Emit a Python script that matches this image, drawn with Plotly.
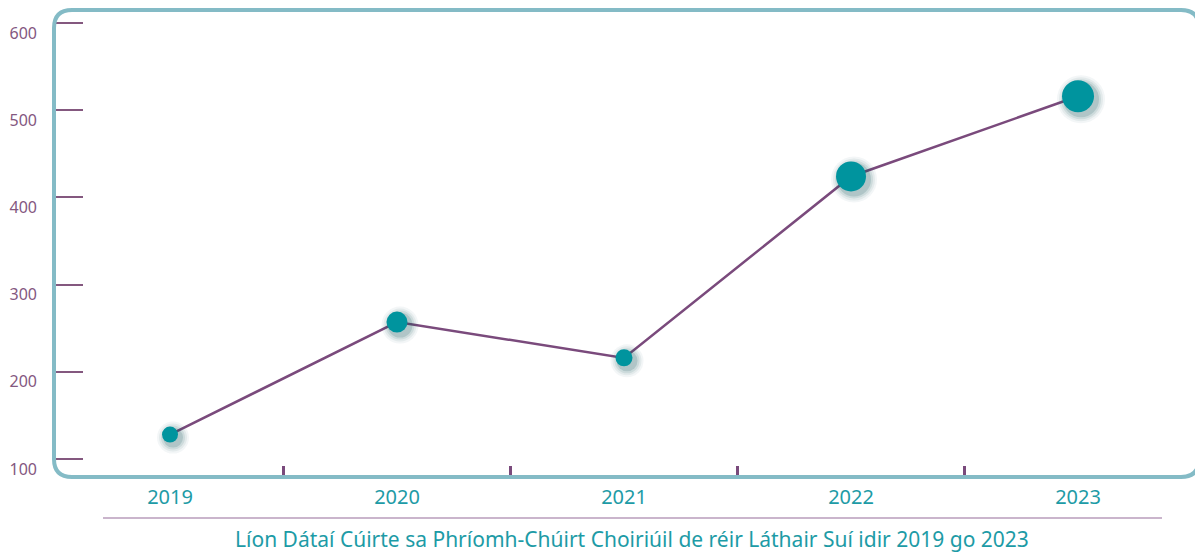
import plotly.graph_objects as go

years = ["2019", "2020", "2021", "2022", "2023"]
values = [128, 257, 216, 424, 516]
marker_sizes = [16, 21, 17, 30, 32]
y_ticks = [100, 200, 300, 400, 500, 600]
title_text = "Líon Dátaí Cúirte sa Phríomh-Chúirt Choiriúil de réir Láthair Suí idir 2019 go 2023"

OFF = 8  # default page body margin
W, H = 1203 - OFF, 553 - OFF
L, R, T, B = 54 - OFF, 1199 - OFF, 10 - OFF, 477 - OFF
pw, ph = R - L, B - T

xs = list(range(len(years)))
x_range = [-0.511, 4.533]
y_range = [79.4, 614.9]

teal = "#00949E"
purple = "#7A4A7C"
border = "#84BBC6"
label_purple = "#84587F"
label_teal = "#1D9BA6"
font_family = "Noto Sans"

fig = go.Figure()

# connecting line
fig.add_trace(go.Scatter(x=xs, y=values, mode="lines",
                         line=dict(color=purple, width=2.5),
                         hoverinfo="skip", showlegend=False))

# soft shadow glow
xu = (x_range[1] - x_range[0]) / pw
yu = (y_range[1] - y_range[0]) / ph
for extra, op in [(16, 0.05), (12, 0.07), (8, 0.10), (4, 0.16)]:
    fig.add_trace(go.Scatter(
        x=[x + 3 * xu for x in xs], y=[v - 3 * yu for v in values],
        mode="markers",
        marker=dict(size=[s + extra for s in marker_sizes], color="#17555c", opacity=op, line=dict(width=0)),
        hoverinfo="skip", showlegend=False))

fig.add_trace(go.Scatter(
    x=xs, y=values, mode="markers",
    marker=dict(size=marker_sizes, color=teal, opacity=1, line=dict(width=0)),
    showlegend=False))

# rounded border
r = 18
def px(xp):
    return (xp - OFF - L) / pw
def py(yp):
    return (B - (yp - OFF)) / ph
Lp, Rp, Tp, Bp = L + OFF, R + OFF, T + OFF, B + OFF
path = (f"M {px(Lp+r)},{py(Tp)} L {px(Rp-r)},{py(Tp)} Q {px(Rp)},{py(Tp)} {px(Rp)},{py(Tp+r)} "
        f"L {px(Rp)},{py(Bp-r)} Q {px(Rp)},{py(Bp)} {px(Rp-r)},{py(Bp)} "
        f"L {px(Lp+r)},{py(Bp)} Q {px(Lp)},{py(Bp)} {px(Lp)},{py(Bp-r)} "
        f"L {px(Lp)},{py(Tp+r)} Q {px(Lp)},{py(Tp)} {px(Lp+r)},{py(Tp)} Z")
fig.add_shape(type="path", path=path, xref="paper", yref="paper",
              line=dict(color=border, width=4), layer="above")

# separator line under x labels
fig.add_shape(type="line", xref="paper", yref="paper",
              x0=px(103), x1=px(1162), y0=py(518), y1=py(518),
              line=dict(color="#B99CBB", width=1.5))

fig.add_annotation(text=title_text, xref="paper", yref="paper",
                   x=px(632), y=py(539), xanchor="center", yanchor="middle",
                   showarrow=False,
                   font=dict(family=font_family, size=21, color=label_teal))

fig.update_layout(
    width=W, height=H,
    margin=dict(l=L, r=W - R, t=T, b=H - B, pad=0),
    paper_bgcolor="white", plot_bgcolor="white",
    font=dict(family=font_family),
    xaxis=dict(range=x_range, tickvals=xs, ticktext=years, showgrid=False, zeroline=False,
               showline=False, ticks="", tickfont=dict(size=20, color=label_teal),
               ticklabelstandoff=6,
               minor=dict(tickvals=[x + 0.5 for x in xs[:-1]], ticks="inside", ticklen=11,
                          tickwidth=3, tickcolor=purple)),
    yaxis=dict(range=y_range, tickvals=y_ticks, showgrid=False, zeroline=False, showline=False,
               ticks="inside", ticklen=29, tickwidth=1.5, tickcolor=label_purple,
               tickfont=dict(size=16, color=label_purple), ticklabelstandoff=16,
               ticklabelshift=10),
)

fig.write_html("out.html")
